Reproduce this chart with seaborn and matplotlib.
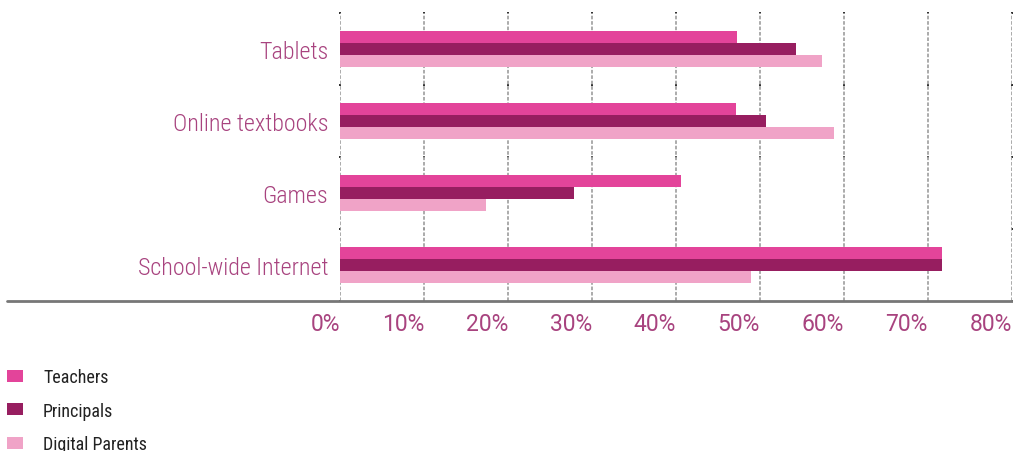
import pandas as pd
import numpy as np
import matplotlib.pyplot as plt
import seaborn as sns
from matplotlib.lines import Line2D

# data (percent)
categories = ["Tablets", "Online textbooks", "Games", "School-wide Internet"]
groups = ["Teachers", "Principals", "Digital Parents"]
teachers = [47.3, 47.1, 40.6, 71.7]
principals = [54.3, 50.7, 27.9, 71.7]
parents = [57.4, 58.8, 17.4, 48.9]
xticks = [0, 10, 20, 30, 40, 50, 60, 70, 80]
colors = ["#e3449a", "#971e60", "#f0a3c7"]

df = pd.DataFrame({
    "category": categories * 3,
    "group": [g for g in groups for _ in categories],
    "value": teachers + principals + parents,
})

sns.set_style("white")
plt.rcParams["font.family"] = ["Roboto Condensed", "DejaVu Sans"]
label_color = "#a8437f"

W, H = 1013, 452
fig = plt.figure(figsize=(W / 100, H / 100), dpi=100)
ax = fig.add_axes([340 / W, 1 - 302 / H, 672 / W, 288 / H])

sns.barplot(data=df, y="category", x="value", hue="group", order=categories,
            hue_order=groups, palette=colors, orient="h", width=0.5,
            saturation=1, linewidth=0, ax=ax, legend=True)

ax.set_xlim(0, 80)
ax.set_ylim(3.5, -0.5)
ax.set_xlabel("")
ax.set_ylabel("")
for s in ax.spines.values():
    s.set_visible(False)

ax.set_xticks(xticks)
ax.set_xticklabels([f"{t}%" for t in xticks], ha="right",
                   family=["Roboto", "DejaVu Sans"])
ax.tick_params(axis="x", length=0, pad=8, labelsize=16.5, labelcolor=label_color)
ax.tick_params(axis="y", length=0, pad=8.5, labelsize=17.3, labelcolor=label_color)
for t in ax.get_yticklabels():
    t.set_fontweight("light")
ax.grid(axis="x", color="#a5a5a5", linestyle=(0, (2, 1)), linewidth=1.3)
ax.grid(axis="y", visible=False)
ax.set_axisbelow(True)

# little dark ticks where the gridlines cross the category boundaries
bx, by = np.meshgrid(xticks, np.arange(len(categories) + 1) - 0.5)
ax.scatter(bx.ravel(), by.ravel(), marker="s", s=2.5, color="#333333",
           linewidths=0, clip_on=False, zorder=0.5)

# full-width baseline under the chart
fig.add_artist(Line2D([7 / W, 1], [1 - 301.5 / H] * 2, color="#777777", lw=2))

handles, labels = ax.get_legend_handles_labels()
ax.get_legend().remove()
fig.legend(handles, labels, loc="upper left", bbox_to_anchor=(7 / W, 1 - 369 / H),
           frameon=False, borderpad=0, borderaxespad=0, fontsize=13,
           handlelength=0.9, handleheight=0.67, handletextpad=1.1,
           labelspacing=0.86, labelcolor="#222222")

fig.savefig("out.png", dpi=100)
